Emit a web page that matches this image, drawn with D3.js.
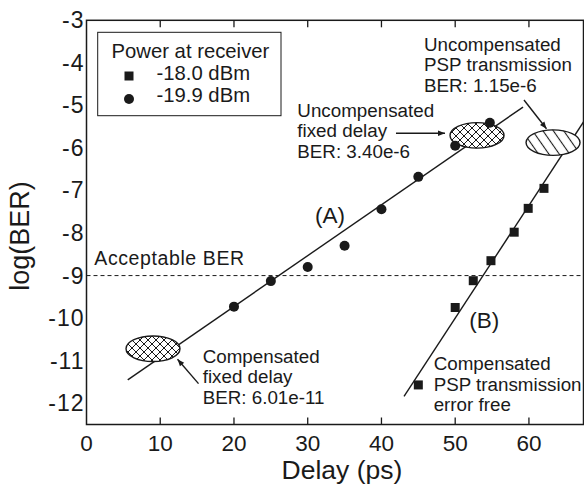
<!DOCTYPE html>
<html><head><meta charset="utf-8">
<script src="https://cdn.jsdelivr.net/npm/d3@7"></script>
<style>
html,body{margin:0;padding:0;background:#fff;}
text{font-family:"Liberation Sans",Arial,Helvetica,sans-serif;fill:#1a1a1a;}
</style></head>
<body><svg id="c" width="584" height="486"></svg>
<script>
// ---- data ----
const circleX = [20, 25, 30, 35, 40, 45, 50, 54.7];
const circleY = [-9.73, -9.13, -8.80, -8.30, -7.44, -6.68, -5.95, -5.41];
const squareX = [45, 50, 52.45, 54.85, 58.0, 59.9, 62.04];
const squareY = [-11.57, -9.75, -9.12, -8.65, -7.98, -7.42, -6.95];
const fitAX = [5.59, 59.2];
const fitAY = [-11.45, -5.04];
const fitBX = [43.06, 67.4];
const fitBY = [-11.84, -5.39];
const xTicks = [0, 10, 20, 30, 40, 50, 60];
const yTicks = [-3, -4, -5, -6, -7, -8, -9, -10, -11, -12];
const acceptableBER = -9;
const legendLabels = ["-18.0 dBm", "-19.9 dBm"];
const ellipseCX = [9.02, 52.96, 63.27];
const ellipseCY = [-10.72, -5.705, -5.875];
const ellipseFill = ["cross", "cross", "diag"];

// ---- scales ----
const svg = d3.select("#c");
const x = d3.scaleLinear().domain([0, 67.4]).range([86.5, 583.5]);
const y = d3.scaleLinear().domain([-12.5, -3]).range([424.5, 20.3]);
const ink = "#1a1a1a";

// patterns
const defs = svg.append("defs");
const pc = defs.append("pattern").attr("id", "cross").attr("patternUnits", "userSpaceOnUse")
  .attr("width", 8).attr("height", 8);
pc.append("rect").attr("width", 8).attr("height", 8).attr("fill", "#fff");
pc.append("path").attr("d", "M0,0L8,8M0,8L8,0M-1,1L1,-1M7,9L9,7M-1,7L1,9M7,-1L9,1")
  .attr("stroke", ink).attr("stroke-width", 1);
const pd = defs.append("pattern").attr("id", "diag").attr("patternUnits", "userSpaceOnUse")
  .attr("width", 8.5).attr("height", 10).attr("patternTransform", "rotate(-35)");
pd.append("rect").attr("width", 8.5).attr("height", 10).attr("fill", "#fff");
pd.append("line").attr("x1", 4.25).attr("x2", 4.25).attr("y1", 0).attr("y2", 10)
  .attr("stroke", ink).attr("stroke-width", 1.1);
const mk = defs.append("marker").attr("id", "arr").attr("viewBox", "0 0 10 10")
  .attr("refX", 10).attr("refY", 5).attr("markerWidth", 9).attr("markerHeight", 7)
  .attr("markerUnits", "userSpaceOnUse").attr("orient", "auto");
mk.append("path").attr("d", "M0,1L10,5L0,9Z").attr("fill", ink);

// dashed acceptable line
svg.append("line").attr("x1", x(0)).attr("x2", x(67.4)).attr("y1", y(acceptableBER)).attr("y2", y(acceptableBER))
  .attr("stroke", ink).attr("stroke-width", 1).attr("stroke-dasharray", "4,3");

// fit lines
const ln = d3.line().x(d => x(d[0])).y(d => y(d[1]));
svg.append("path").attr("d", ln(fitAX.map((v, i) => [v, fitAY[i]]))).attr("stroke", ink).attr("stroke-width", 1.4).attr("fill", "none");
svg.append("path").attr("d", ln(fitBX.map((v, i) => [v, fitBY[i]]))).attr("stroke", ink).attr("stroke-width", 1.4).attr("fill", "none");

// ellipses
const rxData = 3.66, ryData = 0.30;
ellipseCX.forEach((cx, i) => {
  svg.append("ellipse").attr("cx", x(cx)).attr("cy", y(ellipseCY[i]))
    .attr("rx", x(cx + rxData) - x(cx)).attr("ry", y(ellipseCY[i] - ryData) - y(ellipseCY[i]))
    .attr("fill", "url(#" + ellipseFill[i] + ")").attr("stroke", ink).attr("stroke-width", 1.4);
});

// data markers
svg.selectAll("circle.d").data(circleX).join("circle").attr("class", "d")
  .attr("cx", d => x(d)).attr("cy", (d, i) => y(circleY[i])).attr("r", 5).attr("fill", ink);
svg.selectAll("rect.d").data(squareX).join("rect").attr("class", "d")
  .attr("x", d => x(d) - 4.5).attr("y", (d, i) => y(squareY[i]) - 4.5).attr("width", 9).attr("height", 9).attr("fill", ink);

// frame & ticks
const L = x(0), R = x(67.4), T = y(-3), B = y(-12.5);
svg.append("rect").attr("x", L).attr("y", T).attr("width", R - L).attr("height", B - T)
  .attr("fill", "none").attr("stroke", ink).attr("stroke-width", 1.5);
const tk = 7;
xTicks.forEach(v => {
  if (v > 0) {
    svg.append("line").attr("x1", x(v)).attr("x2", x(v)).attr("y1", B).attr("y2", B - tk).attr("stroke", ink).attr("stroke-width", 1.3);
    svg.append("line").attr("x1", x(v)).attr("x2", x(v)).attr("y1", T).attr("y2", T + tk).attr("stroke", ink).attr("stroke-width", 1.3);
  }
  svg.append("text").attr("x", x(v)).attr("y", B + 26).attr("text-anchor", "middle")
    .attr("font-size", 22.5).text(v);
});
yTicks.forEach(v => {
  if (v > -3) {
    svg.append("line").attr("x1", L).attr("x2", L + tk).attr("y1", y(v)).attr("y2", y(v)).attr("stroke", ink).attr("stroke-width", 1.3);
    svg.append("line").attr("x1", R).attr("x2", R - tk).attr("y1", y(v)).attr("y2", y(v)).attr("stroke", ink).attr("stroke-width", 1.3);
  }
  svg.append("text").attr("x", L - 2).attr("y", y(v) + 8).attr("text-anchor", "end")
    .attr("font-size", 23).attr("letter-spacing", 1).text(v);
});

// axis titles
svg.append("text").attr("x", 342).attr("y", 479).attr("text-anchor", "middle").attr("font-size", 26.5).text("Delay (ps)");
svg.append("text").attr("transform", "translate(29,236) rotate(-90)").attr("text-anchor", "middle").attr("font-size", 27).text("log(BER)");

// legend
svg.append("rect").attr("x", 97.7).attr("y", 32.3).attr("width", 183.3).attr("height", 83.4)
  .attr("fill", "#fff").attr("stroke", ink).attr("stroke-width", 1);
svg.append("text").attr("x", 111.5).attr("y", 58).attr("font-size", 20.3).text("Power at receiver");
svg.append("rect").attr("x", 124.5).attr("y", 71.5).attr("width", 9).attr("height", 9).attr("fill", ink);
svg.append("circle").attr("cx", 129).attr("cy", 99).attr("r", 5).attr("fill", ink);
svg.append("text").attr("x", 156.5).attr("y", 80).attr("font-size", 20.3).text(legendLabels[0]);
svg.append("text").attr("x", 156.5).attr("y", 101.5).attr("font-size", 20.3).text(legendLabels[1]);

// annotations
function block(xv, yv, lines, fs, lh) {
  const t = svg.append("text").attr("font-size", fs);
  lines.forEach((s, i) => t.append("tspan").attr("x", x(xv)).attr("y", y(yv) + i * lh).text(s));
}
block(45.77, -3.714, ["Uncompensated", "PSP transmission", "BER: 1.15e-6"], 18.8, 20.6);
block(28.59, -5.264, ["Uncompensated", "fixed delay", "BER: 3.40e-6"], 18.8, 20.6);
block(15.76, -11.055, ["Compensated", "fixed delay", "BER: 6.01e-11"], 18.8, 20.4);
block(47.08, -11.213, ["Compensated", "PSP transmission", "error free"], 18.8, 20.8);
svg.append("text").attr("x", x(30.99)).attr("y", y(-7.76)).attr("font-size", 22.5).text("(A)");
svg.append("text").attr("x", x(51.91)).attr("y", y(-10.233)).attr("font-size", 22.5).text("(B)");
svg.append("text").attr("x", x(1.06)).attr("y", y(-8.747)).attr("font-size", 19.5).attr("letter-spacing", 0.6).text("Acceptable BER");

// arrows
const arrows = [[41.97, -5.654, 48.62, -5.654], [59.33, -4.872, 62.38, -5.55], [15.19, -11.54, 12.34, -10.966]];
arrows.forEach(a => {
  svg.append("line").attr("x1", x(a[0])).attr("y1", y(a[1])).attr("x2", x(a[2])).attr("y2", y(a[3]))
    .attr("stroke", ink).attr("stroke-width", 1.4).attr("marker-end", "url(#arr)");
});
</script></body></html>
